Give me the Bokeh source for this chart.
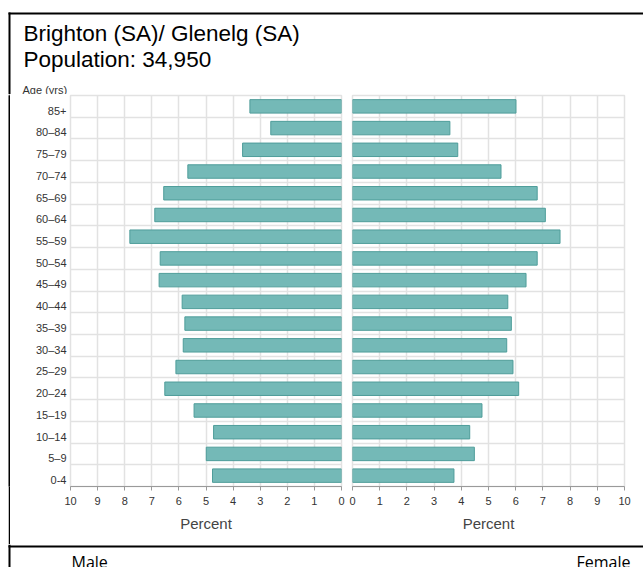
from bokeh.plotting import figure
from bokeh.layouts import column, row
from bokeh.models import Range1d, FixedTicker, CustomJSTickFormatter, ColumnDataSource
from bokeh.core.properties import value
from bokeh.embed import file_html
from bokeh.resources import INLINE

# ---------------- data ----------------
title_line1 = "Brighton (SA)/ Glenelg (SA)"
title_line2 = "Population: 34,950"
age_title = "Age (yrs)"
x_title = "Percent"
male_label = "Male"
female_label = "Female"

age_groups = ["0-4", "5–9", "10–14", "15–19", "20–24", "25–29", "30–34", "35–39",
              "40–44", "45–49", "50–54", "55–59", "60–64", "65–69", "70–74",
              "75–79", "80–84", "85+"]
male = [4.76, 4.99, 4.72, 5.44, 6.52, 6.11, 5.84, 5.78, 5.88, 6.73, 6.69, 7.81,
        6.89, 6.56, 5.67, 3.65, 2.61, 3.38]
female = [3.73, 4.48, 4.31, 4.76, 6.11, 5.90, 5.67, 5.84, 5.71, 6.38, 6.79, 7.63,
          7.09, 6.79, 5.46, 3.87, 3.58, 6.01]
x_ticks = list(range(0, 11))

# ---------------- styling ----------------
W = 643
HDR_H = 94
CH_H = 450
FTR_H = 23
PAD_W = 8
STRIP_W = 2
LEFT_W = 336
BAR_FILL = "#74b9b7"
BAR_LINE = "#4f9d9a"
GRID = "#e2e2e2"
AXIS = "#9a9a9a"
SANS = "Liberation Sans"

idx = list(range(len(age_groups)))
src = ColumnDataSource(dict(idx=idx, male=male, female=female))


def blank(width, height, fill="white"):
    f = figure(width=width, height=height, x_range=Range1d(0, width), y_range=Range1d(0, height),
               toolbar_location=None, output_backend="svg", min_border=0,
               x_axis_location=None, y_axis_location=None)
    f.outline_line_color = None
    f.grid.visible = False
    f.background_fill_color = fill
    f.border_fill_color = fill
    return f


# header
hdr = blank(W, HDR_H)
hdr.segment(x0=[8], y0=[HDR_H - 13], x1=[W], y1=[HDR_H - 13], line_color="black", line_width=2)
hdr.segment(x0=[9], y0=[0], x1=[9], y1=[HDR_H - 12], line_color="black", line_width=2)
hdr.text(x=[23], y=[HDR_H - 33], text=[title_line1], text_font=value(SANS), text_font_size="22.5px",
         text_baseline="alphabetic", text_color="black")
hdr.text(x=[23], y=[HDR_H - 58.5], text=[title_line2], text_font=value(SANS), text_font_size="22.5px",
         text_baseline="alphabetic", text_color="black")
hdr.text(x=[22], y=[HDR_H - 89], text=[age_title], text_font=value(SANS), text_font_size="11px",
         text_baseline="alphabetic", text_color="#333333")

# left margin + black border strip beside the charts
pad = blank(PAD_W, CH_H, "white")
pad.scatter(x=[0], y=[0], size=0, alpha=0)
strip = blank(STRIP_W, CH_H, "black")
strip.scatter(x=[0], y=[0], size=0, alpha=0)


def pyramid(side, width, mb_left, mb_right):
    xr = Range1d(10, 0) if side == "male" else Range1d(0, 10)
    p = figure(width=width, height=CH_H, x_range=xr, y_range=Range1d(-0.5, len(age_groups) - 0.5),
               toolbar_location=None, output_backend="svg",
               min_border_left=mb_left, min_border_right=mb_right, min_border_top=1, min_border_bottom=58,
               y_axis_location="left" if side == "male" else None)
    p.hbar(y="idx", left=0, right=side, height=0.62, source=src,
           fill_color=BAR_FILL, line_color=BAR_LINE, line_width=1)
    p.outline_line_color = GRID
    p.outline_line_width = 1.5
    p.xgrid.ticker = FixedTicker(ticks=x_ticks)
    p.ygrid.ticker = FixedTicker(ticks=[i + 0.5 for i in idx[:-1]])
    p.grid.grid_line_color = GRID
    p.grid.grid_line_width = 1.5
    ax = p.xaxis[0]
    ax.ticker = FixedTicker(ticks=x_ticks)
    ax.axis_label = x_title
    ax.axis_line_color = AXIS
    ax.major_tick_line_color = AXIS
    ax.major_tick_out = 4
    ax.major_tick_in = 0
    ax.minor_tick_line_color = None
    ax.major_label_text_font = SANS
    ax.major_label_text_font_size = "11px"
    ax.major_label_text_color = "#333333"
    ax.major_label_standoff = 6
    ax.axis_label_text_font = SANS
    ax.axis_label_text_font_size = "15px"
    ax.axis_label_text_font_style = "normal"
    ax.axis_label_text_color = "#444444"
    ax.axis_label_standoff = 7
    if side == "male":
        ya = p.yaxis[0]
        ya.ticker = FixedTicker(ticks=[i - 0.2 for i in idx])
        ya.formatter = CustomJSTickFormatter(args=dict(labels=age_groups),
                                             code="return labels[Math.round(tick)];")
        ya.axis_line_color = None
        ya.major_tick_line_color = None
        ya.minor_tick_line_color = None
        ya.major_tick_out = 0
        ya.major_tick_in = 0
        ya.major_label_standoff = 4
        ya.major_label_text_font = SANS
        ya.major_label_text_font_size = "11px"
        ya.major_label_text_color = "#333333"
    return p


left = pyramid("male", LEFT_W, 60, 5)
right = pyramid("female", W - PAD_W - STRIP_W - LEFT_W, 6, 19)

# footer
ftr = blank(W, FTR_H)
ftr.segment(x0=[8], y0=[FTR_H - 2], x1=[W], y1=[FTR_H - 2], line_color="black", line_width=2)
ftr.segment(x0=[9], y0=[0], x1=[9], y1=[FTR_H], line_color="black", line_width=2)
ftr.text(x=[71], y=[6], text=[male_label], text_font=value("Open Sans"), text_font_size="16px",
         text_baseline="alphabetic", text_color="black")
ftr.text(x=[576], y=[6], text=[female_label], text_font=value("Open Sans"), text_font_size="16px",
         text_baseline="alphabetic", text_color="black")

layout = column(hdr, row(pad, strip, left, right), ftr)

open("out.html", "w").write(file_html(layout, INLINE))
